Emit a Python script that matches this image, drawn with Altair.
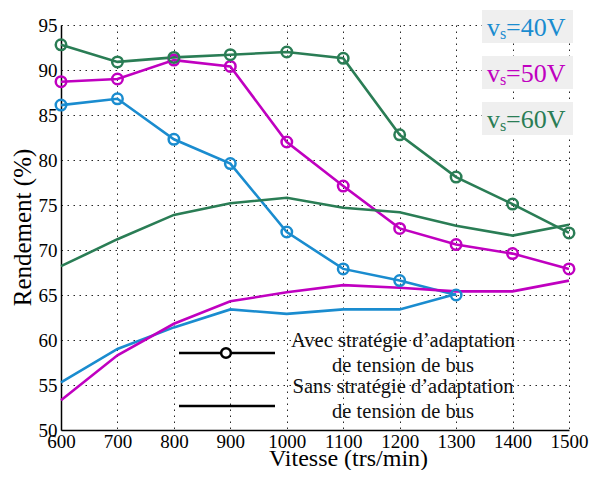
import altair as alt
import pandas as pd

vitesse = [600, 700, 800, 900, 1000, 1100, 1200, 1300, 1400, 1500]

avec_40 = [86.1, 86.8, 82.3, 79.6, 72.0, 67.9, 66.6, 65.0]
avec_50 = [88.7, 89.0, 91.1, 90.4, 82.0, 77.1, 72.4, 70.6, 69.6, 67.9]
avec_60 = [92.8, 90.9, 91.4, 91.7, 92.0, 91.3, 82.8, 78.1, 75.1, 71.9]

sans_40 = [55.3, 59.0, 61.4, 63.4, 62.9, 63.4, 63.4, 65.1]
sans_50 = [53.3, 58.3, 61.8, 64.3, 65.3, 66.1, 65.8, 65.4, 65.4, 66.6]
sans_60 = [68.2, 71.2, 73.9, 75.2, 75.8, 74.7, 74.2, 72.7, 71.6, 72.8]

series_names = ["40V", "50V", "60V"]
series_colors = ["#1a8ccf", "#c000c0", "#2a7d55"]
y_ticks = [50, 55, 60, 65, 70, 75, 80, 85, 90, 95]
legend_texts = ["Avec stratégie d\u2019adaptation", "de tension de bus",
                "Sans stratégie d\u2019adaptation", "de tension de bus"]
vs_labels = ["=40V", "=50V", "=60V"]

rows = []
for name, a, s in zip(series_names, [avec_40, avec_50, avec_60], [sans_40, sans_50, sans_60]):
    for x, y in zip(vitesse, a):
        rows.append({"v": x, "r": y, "serie": name, "type": "avec"})
    for x, y in zip(vitesse, s):
        rows.append({"v": x, "r": y, "serie": name, "type": "sans"})
df = pd.DataFrame(rows)

FONT = "Liberation Serif"
xs = alt.X("v:Q", scale=alt.Scale(domain=[600, 1500], nice=False),
           axis=alt.Axis(values=vitesse, format="d", title="Vitesse (trs/min)",
                         labelFont=FONT, titleFont=FONT, labelOverlap=False, labelFlush=False,
                         labelPadding=2, titleFontSize=24,
                         titleX=287, titleY=35, titleBaseline="alphabetic"))
ys = alt.Y("r:Q", scale=alt.Scale(domain=[50, 95], nice=False),
           axis=alt.Axis(values=y_ticks, format="d", title="Rendement (%)",
                         labelFont=FONT, titleFont=FONT, labelOverlap=False, labelFlush=False,
                         titleX=-31, titleY=202, titleBaseline="alphabetic"))
color = alt.Color("serie:N", scale=alt.Scale(domain=series_names, range=series_colors), legend=None)

base = alt.Chart(df)
lines = base.mark_line(strokeWidth=2.6).encode(x=xs, y=ys, color=color, detail="type:N")
points = base.transform_filter(alt.datum.type == "avec").mark_point(
    shape="circle", filled=False, size=110, strokeWidth=2.5, opacity=1
).encode(x=xs, y=ys, color=color)

layers = [lines, points]
one = alt.Chart(pd.DataFrame({"k": [0]}))

# legend (annotation, pixel positions in plot area)
for yy in [328, 381]:
    layers.append(one.mark_rule(color="black", strokeWidth=2.6).encode(
        x=alt.value(118), x2=alt.value(214), y=alt.value(yy)))
layers.append(one.mark_point(shape="circle", filled=True, fill="white", stroke="black",
                             size=95, strokeWidth=2.5, opacity=1).encode(
    x=alt.value(165), y=alt.value(328)))
for t, yy in zip(legend_texts, [322, 347, 368, 393]):
    layers.append(one.mark_text(font=FONT, fontSize=20.5, align="center", baseline="alphabetic",
                                color="#111", text=t).encode(x=alt.value(342), y=alt.value(yy)))

# v_s boxes
for i, (lab, c) in enumerate(zip(vs_labels, series_colors)):
    top = -15 + 46 * i
    layers.append(one.mark_rect(fill="#efefef").encode(
        x=alt.value(421), x2=alt.value(512), y=alt.value(top), y2=alt.value(top + 33)))
    yb = top + 26
    layers.append(one.mark_text(font=FONT, fontSize=26, align="left", baseline="alphabetic",
                                color=c, text="v").encode(x=alt.value(426), y=alt.value(yb)))
    layers.append(one.mark_text(font=FONT, fontSize=16, align="left", baseline="alphabetic",
                                color=c, text="s").encode(x=alt.value(439), y=alt.value(yb + 3)))
    layers.append(one.mark_text(font=FONT, fontSize=26, align="left", baseline="alphabetic",
                                color=c, text=lab).encode(x=alt.value(445), y=alt.value(yb)))

chart = alt.layer(*layers).properties(
    width=508, height=405,
    autosize=alt.AutoSizeParams(type="none"),
    padding={"left": 53, "top": 17, "right": 20, "bottom": 40},
).configure_view(stroke=None).configure_axis(
    labelFont=FONT, labelFontSize=19, labelColor="black",
    titleFont=FONT, titleFontSize=25, titleFontWeight="normal", titleColor="black",
    domainColor="black", domainWidth=1.5, ticks=False,
    gridColor="black", gridDash=[1.5, 4.5], gridWidth=1, gridOpacity=0.85,
    labelPadding=4,
)

chart.save("out.html", embed_options={"renderer": "svg", "actions": False})
